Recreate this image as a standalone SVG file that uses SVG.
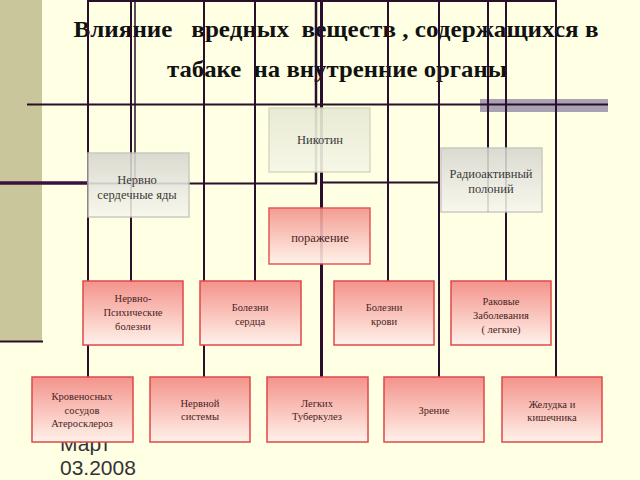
<svg xmlns="http://www.w3.org/2000/svg" width="640" height="480" viewBox="0 0 640 480">
<defs>
<linearGradient id="gGray" x1="0" y1="0" x2="0" y2="1"><stop offset="0" stop-color="#d6d6cf"/><stop offset="1" stop-color="#f7f7ee"/></linearGradient>
<linearGradient id="gNic" x1="0" y1="0" x2="0" y2="1"><stop offset="0" stop-color="#e6e9d2"/><stop offset="1" stop-color="#f6f7e8"/></linearGradient>
<linearGradient id="gRed" x1="0" y1="0" x2="0" y2="1"><stop offset="0" stop-color="#f3938b"/><stop offset="1" stop-color="#fff2ea"/></linearGradient>
</defs>
<style>
.ln{stroke:#2a0f2c;stroke-width:2;fill:none}
.gray rect{fill:url(#gGray);stroke:#c4c4bc;stroke-width:1.5;opacity:0.88}
.nic rect{fill:url(#gNic);stroke:#d2d6ba;stroke-width:1.5;opacity:0.9}
.red rect{fill:url(#gRed);stroke:#e04848;stroke-width:1.5}
.gt{font-size:12.5px;fill:#3a3a3a}
.rt{font-size:10.5px;fill:#4a2424}
.title{font-size:23px;font-weight:bold;fill:#111}
</style>
<rect width="640" height="480" fill="#ffffe4"/>
<rect x="0" y="0" width="42" height="342" fill="#c9c69c"/>
<line x1="0" y1="341.5" x2="43" y2="341.5" stroke="#2a0f2c" stroke-width="2"/>
<g font-family="'Liberation Sans', Arial, sans-serif" font-size="21" fill="#333">
<text x="60" y="451">Март</text>
<text x="60" y="475">03.2008</text>
</g>
<g font-family="'Liberation Serif', 'Times New Roman', serif" text-anchor="middle">
<text class="title" x="336" y="37" textLength="525" lengthAdjust="spacingAndGlyphs" xml:space="preserve">Влияние   вредных  веществ , содержащихся в</text>
<text class="title" x="337" y="77" textLength="340" lengthAdjust="spacingAndGlyphs" xml:space="preserve">табаке  на внутренние органы</text>
</g>
<rect x="480" y="99" width="128" height="13" fill="#a9a2b2"/>
<g id="connectors">
<path class="ln" d="M89 1H557"/>
<path class="ln" d="M27 104.5H608"/>
<path class="ln" d="M0 183H88" style="stroke-width:3.5;stroke:#3a1242"/>
<path class="ln" d="M88 183.5H317"/>
<path class="ln" d="M321 182.5H440"/>
<path class="ln" d="M88 0V377"/>
<path class="ln" d="M131 0V281"/>
<path class="ln" d="M135 0V183" style="stroke-width:1.5"/>
<path class="ln" d="M204 0V377"/>
<path class="ln" d="M255 0V281"/>
<path class="ln" d="M316 0V183" style="stroke-width:2.5"/>
<path class="ln" d="M321.5 0V377" style="stroke-width:3"/>
<path class="ln" d="M388 0V281"/>
<path class="ln" d="M439 0V377"/>
<path class="ln" d="M488 0V212"/>
<path class="ln" d="M506 0V281"/>
<path class="ln" d="M556 0V377"/>
</g>
<g font-family="'Liberation Serif', 'Times New Roman', serif" text-anchor="middle">
<g id="nikotin" class="nic"><rect x="269" y="108" width="101" height="64"/><text class="gt" x="320" y="144">Никотин</text></g>
<g id="nervno-serdechnye" class="gray"><rect x="88" y="153" width="101" height="64"/><text class="gt" x="137" y="184">Нервно</text><text class="gt" x="137" y="199">сердечные яды</text></g>
<g id="radioaktivny" class="gray"><rect x="441" y="148" width="101" height="64"/><text class="gt" x="491" y="178">Радиоактивный</text><text class="gt" x="491" y="193">полоний</text></g>
<g id="porazhenie" class="red"><rect x="269" y="208" width="101" height="56" style="opacity:0.9"/><text class="gt" x="320" y="242" style="fill:#4a2424">поражение</text></g>
<g id="nervno-psih" class="red"><rect x="83" y="281" width="100" height="64"/><text class="rt" x="133" y="302">Нервно-</text><text class="rt" x="133" y="316">Психические</text><text class="rt" x="133" y="330">болезни</text></g>
<g id="bolezni-serdca" class="red"><rect x="200" y="281" width="101" height="64"/><text class="rt" x="250" y="311">Болезни</text><text class="rt" x="250" y="325">сердца</text></g>
<g id="bolezni-krovi" class="red"><rect x="334" y="281" width="100" height="64"/><text class="rt" x="384" y="311">Болезни</text><text class="rt" x="384" y="325">крови</text></g>
<g id="rakovye" class="red"><rect x="451" y="281" width="100" height="64"/><text class="rt" x="501" y="305">Раковые</text><text class="rt" x="501" y="319">Заболевания</text><text class="rt" x="501" y="333">( легкие)</text></g>
<g id="krovenosnyh" class="red"><rect x="32" y="377" width="101" height="65"/><text class="rt" x="82" y="400">Кровеносных</text><text class="rt" x="82" y="414">сосудов</text><text class="rt" x="82" y="427">Атеросклероз</text></g>
<g id="nervnoy" class="red"><rect x="150" y="377" width="100" height="65"/><text class="rt" x="200" y="407">Нервной</text><text class="rt" x="200" y="420">системы</text></g>
<g id="legkih" class="red"><rect x="267" y="377" width="101" height="65"/><text class="rt" x="317" y="407">Легких</text><text class="rt" x="317" y="420">Туберкулез</text></g>
<g id="zrenie" class="red"><rect x="384" y="377" width="100" height="65"/><text class="rt" x="434" y="414">Зрение</text></g>
<g id="zheludka" class="red"><rect x="502" y="377" width="100" height="65"/><text class="rt" x="552" y="408">Желудка и</text><text class="rt" x="552" y="421">кишечника</text></g>
</g>
</svg>
